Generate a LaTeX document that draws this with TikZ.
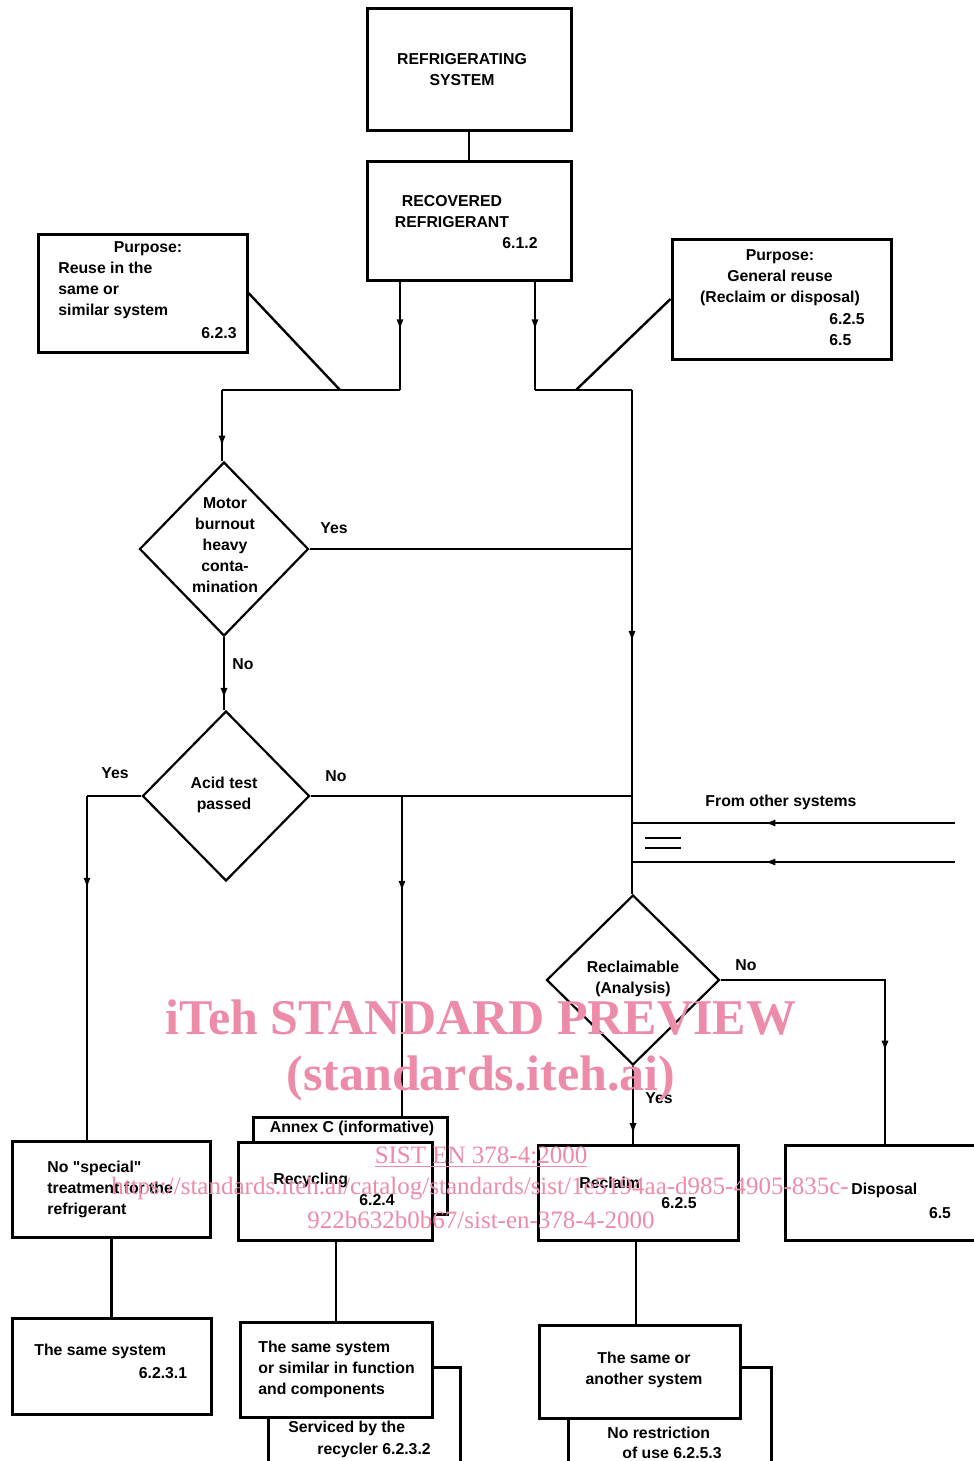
\documentclass[tikz,border=0pt]{standalone}
\usepackage{fontspec}
\setmainfont{Liberation Sans}
\newfontfamily\wmfont{Liberation Serif}
\usetikzlibrary{shapes.geometric,decorations.markings,arrows.meta}
\tikzset{>={Latex[length=5.5pt,width=3.6pt]}}
\definecolor{wmpink}{RGB}{236,140,168}

\begin{document}
\begin{tikzpicture}[x=0.5pt,y=-0.5pt,
    box/.style={draw, line width=1.5pt, inner sep=0pt, fill=white},
    dec/.style={draw, shape=diamond, line width=1.1pt, inner sep=0pt},
    txt/.style={font=\bfseries\fontsize{7.9}{10.5}\selectfont, inner sep=0pt},
    flow/.style={line width=1.2pt},
    midarrow/.style={postaction={decorate},
        decoration={markings, mark=at position #1 with {\arrow{>}}}},
    wm/.style={text=wmpink, inner sep=0pt}]
    \useasboundingbox (0,0) rectangle (974,1461);
    \clip (0,0) rectangle (974,1461);

    % Draw the top boxes
    \node[box, minimum width=102pt, minimum height=61pt] (rs) at (469,70) {};
    \node[txt, align=center] (rs-t) at (462,70) {REFRIGERATING\\SYSTEM};
    \node[box, minimum width=102pt, minimum height=59.5pt] (rr) at (469,220.5) {};
    \node[txt, align=center] (rr-t) at (452,212) {RECOVERED\\REFRIGERANT};
    \node[txt] (rr-n) at (520,243) {6.1.2};

    % Draw the purpose boxes
    \node[box, minimum width=104.5pt, minimum height=59pt] (pl) at (142.5,293) {};
    \node[txt] (pl-h) at (148,249) {Purpose:};
    \node[txt, anchor=west, align=left] (pl-t) at (58,290) {Reuse in the\\same or\\similar system};
    \node[txt, anchor=east] (pl-n) at (237,333) {6.2.3};
    \node[box, minimum width=109.5pt, minimum height=60pt] (pr) at (781.5,299) {};
    \node[txt, align=center] (pr-t) at (780,278) {Purpose:\\General reuse\\(Reclaim or disposal)};
    \node[txt, anchor=west, align=left] (pr-n) at (829,329.5) {6.2.5\\6.5};

    % Draw the decisions
    \node[dec, minimum width=84.5pt, minimum height=87pt] (dm) at (224,549) {};
    \node[txt, align=center] (dm-t) at (225,545.5) {Motor\\burnout\\heavy\\conta-\\mination};
    \node[dec, minimum width=83.5pt, minimum height=85pt] (da) at (226,796) {};
    \node[txt, align=center] (da-t) at (224,795) {Acid test\\passed};
    \node[dec, minimum width=86.5pt, minimum height=85pt] (dr) at (633,980) {};
    \node[txt, align=center] (dr-t) at (633,978.5) {Reclaimable\\(Analysis)};

    % Draw the result boxes
    \node[box, minimum width=99pt, minimum height=48pt] (ns) at (111,1189) {};
    \node[txt, anchor=west, align=left] (ns-t) at (47,1189) {No \textquotedbl special\textquotedbl\\treatment for the\\refrigerant};
    \node[box, minimum width=97pt, minimum height=48.5pt] (an) at (350,1165.5) {};
    \node[txt] (an-t) at (352,1128) {Annex C (informative)};
    \node[box, minimum width=97pt, minimum height=49pt] (rcy) at (335,1191) {};
    \node[txt, anchor=west] (rcy-t) at (273,1180) {Recycling};
    \node[txt] (rcy-n) at (377,1200) {6.2.4};
    \node[box, minimum width=100pt, minimum height=47.5pt] (rc) at (638,1192.5) {};
    \node[txt, anchor=west] (rc-t) at (579,1183) {Reclaim};
    \node[txt] (rc-n) at (679,1203) {6.2.5};
    \node[box, minimum width=100pt, minimum height=47.5pt] (ds) at (885,1192.5) {};
    \node[txt, anchor=west] (ds-t) at (851,1190) {Disposal};
    \node[txt] (ds-n) at (940,1213) {6.5};

    % Draw the use boxes
    \node[box, minimum width=99.5pt, minimum height=48pt] (ss) at (111.5,1366) {};
    \node[txt, anchor=west] (ss-t) at (34,1351) {The same system};
    \node[txt] (ss-n) at (163,1373) {6.2.3.1};
    \node[box, minimum width=96pt, minimum height=56.5pt] (sv) at (364,1423.5) {};
    \node[txt, anchor=west] (sv-t) at (288,1428) {Serviced by the};
    \node[txt, anchor=west] (sv-n) at (317,1450) {recycler 6.2.3.2};
    \node[box, minimum width=96pt, minimum height=47.5pt] (sim) at (336,1369.5) {};
    \node[txt, anchor=west, align=left] (sim-t) at (258,1369.5) {The same system\\or similar in function\\and components};
    \node[box, minimum width=101.5pt, minimum height=56.5pt] (nr) at (669.5,1423.5) {};
    \node[txt, anchor=west] (nr-t) at (607,1433) {No restriction};
    \node[txt, anchor=west] (nr-n) at (622,1453) {of use 6.2.5.3};
    \node[box, minimum width=100.5pt, minimum height=46.5pt] (sa) at (639.5,1371.5) {};
    \node[txt, align=center] (sa-t) at (644,1369.5) {The same or\\another system};

    % Junction points
    \coordinate (jl) at (400,390);
    \coordinate (jr) at (535,390);
    \coordinate (tl) at (222,390);
    \coordinate (tr) at (632,390);
    \coordinate (dl) at (340,390);
    \coordinate (dd) at (576,390);
    \coordinate (ay) at (87,796);
    \coordinate (ab) at (402,796);
    \coordinate (o1) at (955,823);
    \coordinate (o2) at (955,862);

    % Draw the connectors
    \draw[flow] (rs.south) -- (rs.south |- rr.north);
    \draw[flow, midarrow=0.45] (rr.south -| jl) -- (jl);
    \draw[flow, midarrow=0.45] (rr.south -| jr) -- (jr);
    \draw[flow] (jl) -- (tl);
    \draw[flow, midarrow=0.8] (tl) -- (tl |- dm.north);
    \draw[flow] (jr) -- (tr);
    \draw[flow, midarrow=0.5] (tr) -- (tr |- dr.north);
    \draw[flow] (pl.east) -- (dl);
    \draw[flow] (pr.west) -- (dd);
    \draw[flow] (dm.east) -- (dm.east -| tr);
    \draw[flow, midarrow=0.85] (dm.south) -- (dm.south |- da.north);
    \draw[flow] (da.east) -- (da.east -| tr);
    \draw[flow] (da.west) -- (ay);
    \draw[flow, midarrow=0.27] (ay) -- (ay |- ns.north);
    \draw[flow, midarrow=0.3] (ab) -- (ab |- an.north);
    \draw[flow, midarrow=0.59] (o1) -- (o1 -| tr);
    \draw[flow, midarrow=0.59] (o2) -- (o2 -| tr);
    \draw[flow] (645,838) -- (681,838);
    \draw[flow] (645,848) -- (681,848);
    \draw[flow, midarrow=0.72] (dr.east) -| (ds.north);
    \draw[flow, midarrow=0.88] (dr.south) -- (dr.south |- rc.north);
    \draw[flow] (ns.south -| ss.north) -- (ss.north);
    \draw[flow] (rcy.south -| sim.north) -- (sim.north);
    \draw[flow] (rc.south -| 636,0) -- (636,0 |- sa.north);

    % Add the branch labels
    \node[txt] (l-my) at (334,528) {Yes};
    \node[txt] (l-mn) at (243,664) {No};
    \node[txt] (l-ay) at (115,773) {Yes};
    \node[txt] (l-an) at (336,776) {No};
    \node[txt] (l-rn) at (746,965) {No};
    \node[txt] (l-ry) at (659,1098) {Yes};
    \node[txt] (l-os) at (781,802) {From other systems};

    % Add the watermark
    \node[wm, font=\wmfont\bfseries\fontsize{25}{30}\selectfont] (wm1) at (481,1018) {iTeh STANDARD PREVIEW};
    \node[wm, font=\wmfont\bfseries\fontsize{25}{30}\selectfont] (wm2) at (481,1078) {(standards.iteh.ai)};
    \node[wm, font=\wmfont\fontsize{12.5}{15}\selectfont] (wm3) at (481,1157) {\underline{SIST EN 378-4:2000}};
    \node[wm, font=\wmfont\fontsize{12.5}{15}\selectfont] (wm4) at (480,1189) {https://standards.iteh.ai/catalog/standards/sist/1e5194aa-d985-4905-835c-};
    \node[wm, font=\wmfont\fontsize{12.5}{15}\selectfont] (wm5) at (481,1220) {922b632b0b67/sist-en-378-4-2000};
\end{tikzpicture}
\end{document}
